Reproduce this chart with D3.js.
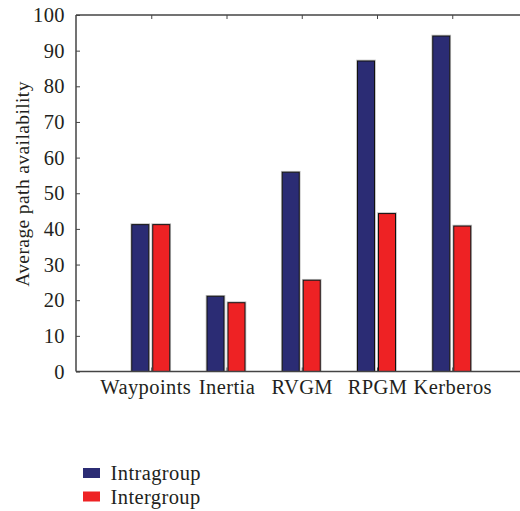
<!DOCTYPE html>
<html><head><meta charset="utf-8">
<script src="https://cdn.jsdelivr.net/npm/d3@7"></script>
<style>
html,body{margin:0;padding:0;background:#fff;}
svg text{font-family:"Liberation Serif","Times New Roman",serif;fill:#231f20;letter-spacing:0.4px;}
</style></head>
<body><div id="chart"></div>
<script>
const categories = ["Waypoints","Inertia","RVGM","RPGM","Kerberos"];
const seriesNames = ["Intragroup","Intergroup"];
const intragroup = [41.2, 21.1, 55.9, 87.1, 94.1];
const intergroup = [41.2, 19.3, 25.6, 44.3, 40.8];
const yTicks = [0,10,20,30,40,50,60,70,80,90,100];
const colors = ["#2b2c74","#ee2224"];

const W = 520, H = 511;
const mLeft = 76, mTop = 15, mBottom = 371.5;
const FS = 20.5;
const svg = d3.select("#chart").append("svg").attr("width", W).attr("height", H);

const x = d3.scaleLinear().domain([-1, 5]).range([mLeft, mLeft + 6*75.25]);
const y = d3.scaleLinear().domain([0, 100]).range([mBottom, mTop]);
const xs = d3.scaleBand().domain(seriesNames).range([-19.5, 18.5]).paddingInner(0.19);

const seriesVals = [intragroup, intergroup];
const data = [];
categories.forEach((c, i) => seriesNames.forEach((s, j) => data.push({i, s, j, v: seriesVals[j][i]})));

// bars (with soft gray halo)
svg.append("g").selectAll("rect").data(data).join("rect")
  .attr("x", d => x(d.i) + xs(d.s) - 0.8)
  .attr("y", d => y(d.v) - 0.8)
  .attr("width", xs.bandwidth() + 1.6)
  .attr("height", d => y(0) - y(d.v) + 0.8)
  .attr("fill", "none").attr("stroke", "#bbb").attr("stroke-width", 1);
svg.append("g").selectAll("rect").data(data).join("rect")
  .attr("x", d => x(d.i) + xs(d.s))
  .attr("y", d => y(d.v))
  .attr("width", xs.bandwidth())
  .attr("height", d => y(0) - y(d.v))
  .attr("fill", d => colors[d.j]).attr("stroke", "#111").attr("stroke-width", 1);

// axes
const axCol = "#444";
const yAxis = svg.append("g").attr("transform", `translate(${mLeft},0)`)
  .call(d3.axisLeft(y).tickValues(yTicks).tickSize(-4).tickPadding(11));
yAxis.select(".domain").remove();
yAxis.selectAll("line").attr("stroke", axCol);
yAxis.selectAll("text").attr("font-size", FS).style("font-family", '"Liberation Serif",serif').attr("fill","#231f20");

const xAxis = svg.append("g").attr("transform", `translate(0,${mBottom})`)
  .call(d3.axisBottom(x).tickValues(d3.range(categories.length)).tickFormat(i => categories[i]).tickSize(-4).tickPadding(8));
xAxis.select(".domain").remove();
xAxis.selectAll("line").attr("stroke", axCol);
xAxis.selectAll("text").attr("font-size", FS).style("font-family", '"Liberation Serif",serif').attr("fill","#231f20")
  .attr("dx", (d, i) => i === 0 ? -6 : 0);

const xTop = svg.append("g").attr("transform", `translate(0,${mTop})`)
  .call(d3.axisTop(x).tickValues(d3.range(categories.length)).tickFormat("").tickSize(-4));
xTop.select(".domain").remove();
xTop.selectAll("line").attr("stroke", axCol);

// frame lines
svg.append("line").attr("x1", mLeft).attr("x2", W).attr("y1", mTop).attr("y2", mTop).attr("stroke", axCol).attr("stroke-width", 1.5);
svg.append("line").attr("x1", mLeft).attr("x2", W).attr("y1", mBottom).attr("y2", mBottom).attr("stroke", axCol).attr("stroke-width", 1.5);
svg.append("line").attr("x1", mLeft).attr("x2", mLeft).attr("y1", mTop).attr("y2", mBottom).attr("stroke", axCol).attr("stroke-width", 1.5);

// y label
svg.append("text").attr("transform", `translate(29,${184}) rotate(-90)`)
  .attr("text-anchor", "middle").attr("font-size", 19.5).text("Average path availability");

// legend
const lg = svg.append("g").attr("transform", "translate(83,468)");
seriesNames.forEach((s, j) => {
  const g = lg.append("g").attr("transform", `translate(0,${j*23.5})`);
  g.append("rect").attr("width", 17).attr("height", 10).attr("fill", colors[j]);
  g.append("text").attr("x", 27.5).attr("y", 12).attr("font-size", FS).text(s);
});
</script></body></html>
